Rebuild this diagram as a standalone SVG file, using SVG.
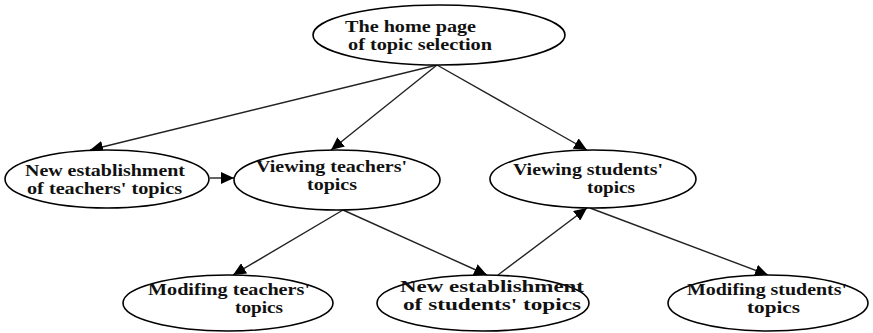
<svg xmlns="http://www.w3.org/2000/svg" width="873" height="333" viewBox="0 0 873 333">
<style>
.node ellipse{fill:#fff;stroke:#000;stroke-width:1.6}
.node text{font-family:"Liberation Serif","Times New Roman",serif;font-weight:bold;font-size:16.5px;fill:#111}
.edges line{stroke:#222;stroke-width:1.4;marker-end:url(#ah)}
</style>
<defs>
<marker id="ah" markerUnits="userSpaceOnUse" markerWidth="14" markerHeight="12" refX="13" refY="6" orient="auto">
<path d="M0,0 L13,6 L0,12 Z" fill="#000"/>
</marker>
</defs>
<rect width="873" height="333" fill="#fff"/>
<g id="edges" class="edges">
<line x1="437" y1="65" x2="90" y2="150"/>
<line x1="437" y1="65" x2="331" y2="150"/>
<line x1="437" y1="65" x2="587" y2="150"/>
<line x1="210" y1="178" x2="234" y2="178"/>
<line x1="343" y1="210" x2="233" y2="275"/>
<line x1="343" y1="210" x2="487" y2="275"/>
<line x1="498" y1="275" x2="587" y2="208"/>
<line x1="590" y1="208" x2="768" y2="275"/>
</g>
<g id="n-home" class="node">
<ellipse cx="439" cy="35" rx="126" ry="30"/>
<text x="345" y="32" textLength="131" lengthAdjust="spacingAndGlyphs">The home page</text>
<text x="348" y="50" textLength="144" lengthAdjust="spacingAndGlyphs">of topic selection</text>
</g>
<g id="n-newteach" class="node">
<ellipse cx="107" cy="179" rx="102" ry="29"/>
<text x="25" y="176" textLength="160" lengthAdjust="spacingAndGlyphs">New establishment</text>
<text x="27" y="194" textLength="155" lengthAdjust="spacingAndGlyphs">of teachers' topics</text>
</g>
<g id="n-viewteach" class="node">
<ellipse cx="337" cy="180" rx="103" ry="30"/>
<text x="256" y="172" textLength="151" lengthAdjust="spacingAndGlyphs">Viewing teachers'</text>
<text x="307" y="190" textLength="50" lengthAdjust="spacingAndGlyphs">topics</text>
</g>
<g id="n-viewstud" class="node">
<ellipse cx="593" cy="179" rx="103" ry="29"/>
<text x="513" y="175" textLength="150" lengthAdjust="spacingAndGlyphs">Viewing students'</text>
<text x="587" y="193" textLength="48" lengthAdjust="spacingAndGlyphs">topics</text>
</g>
<g id="n-modteach" class="node">
<ellipse cx="228" cy="303" rx="105" ry="28"/>
<text x="148" y="295" textLength="162" lengthAdjust="spacingAndGlyphs">Modifing teachers'</text>
<text x="235" y="313" textLength="48" lengthAdjust="spacingAndGlyphs">topics</text>
</g>
<g id="n-newstud" class="node">
<ellipse cx="483" cy="303" rx="106" ry="28"/>
<text x="400" y="292" textLength="184" lengthAdjust="spacingAndGlyphs">New establishment</text>
<text x="403" y="310" textLength="178" lengthAdjust="spacingAndGlyphs">of students' topics</text>
</g>
<g id="n-modstud" class="node">
<ellipse cx="768" cy="303" rx="100" ry="28"/>
<text x="687" y="295" textLength="160" lengthAdjust="spacingAndGlyphs">Modifing students'</text>
<text x="747" y="313" textLength="53" lengthAdjust="spacingAndGlyphs">topics</text>
</g>
</svg>
